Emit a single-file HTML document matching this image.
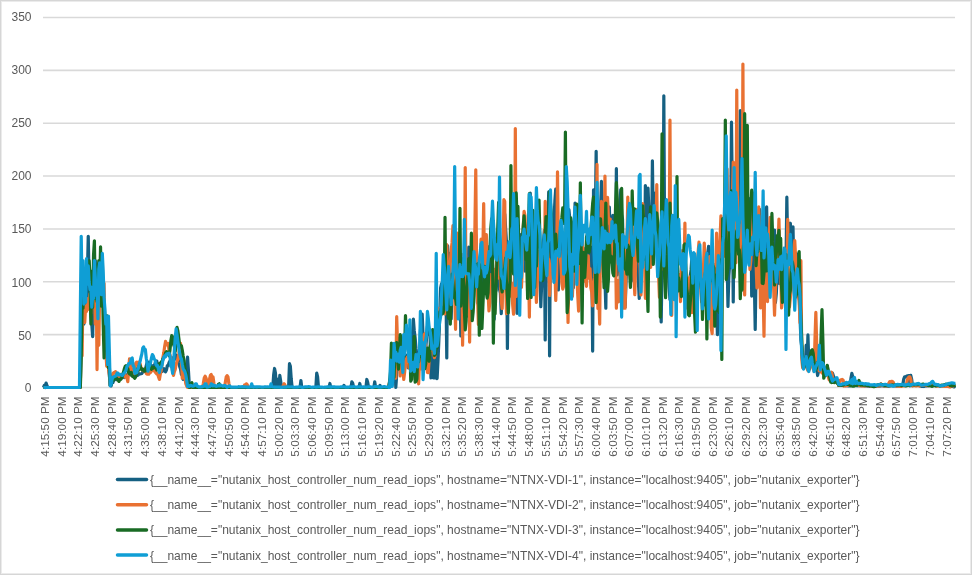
<!DOCTYPE html>
<html><head><meta charset="utf-8"><title>Chart</title>
<style>
html,body{margin:0;padding:0;background:#fff;}
body{width:972px;height:575px;overflow:hidden;position:relative;}
.frame{position:absolute;left:0;top:0;width:972px;height:575px;box-sizing:border-box;border:1px solid #d6d6d6;box-shadow:inset 0 0 0 1px #ebebeb;}
.ax{font-family:"Liberation Sans",Arial,sans-serif;font-size:12px;fill:#595959;}
.xl{font-size:11.8px;}
.lg{font-family:"Liberation Sans",Arial,sans-serif;font-size:12.2px;fill:#595959;}
</style></head><body>
<svg width="972" height="575" viewBox="0 0 972 575" style="position:absolute;left:0;top:0;filter:blur(0.35px)"><line x1="43.0" x2="955" y1="387.50" y2="387.50" stroke="#d9d9d9" stroke-width="1.6"/><text x="31.5" y="392.40" text-anchor="end" class="ax">0</text><line x1="43.0" x2="955" y1="334.64" y2="334.64" stroke="#d9d9d9" stroke-width="1.6"/><text x="31.5" y="339.54" text-anchor="end" class="ax">50</text><line x1="43.0" x2="955" y1="281.79" y2="281.79" stroke="#d9d9d9" stroke-width="1.6"/><text x="31.5" y="286.59" text-anchor="end" class="ax">100</text><line x1="43.0" x2="955" y1="228.93" y2="228.93" stroke="#d9d9d9" stroke-width="1.6"/><text x="31.5" y="232.53" text-anchor="end" class="ax">150</text><line x1="43.0" x2="955" y1="176.07" y2="176.07" stroke="#d9d9d9" stroke-width="1.6"/><text x="31.5" y="179.67" text-anchor="end" class="ax">200</text><line x1="43.0" x2="955" y1="123.21" y2="123.21" stroke="#d9d9d9" stroke-width="1.6"/><text x="31.5" y="126.81" text-anchor="end" class="ax">250</text><line x1="43.0" x2="955" y1="70.36" y2="70.36" stroke="#d9d9d9" stroke-width="1.6"/><text x="31.5" y="73.96" text-anchor="end" class="ax">300</text><line x1="43.0" x2="955" y1="17.50" y2="17.50" stroke="#d9d9d9" stroke-width="1.6"/><text x="31.5" y="21.10" text-anchor="end" class="ax">350</text><text transform="translate(48.94,396.3) rotate(-90)" text-anchor="end" class="ax xl">4:15:50 PM</text><text transform="translate(65.64,396.3) rotate(-90)" text-anchor="end" class="ax xl">4:19:00 PM</text><text transform="translate(82.33,396.3) rotate(-90)" text-anchor="end" class="ax xl">4:22:10 PM</text><text transform="translate(99.03,396.3) rotate(-90)" text-anchor="end" class="ax xl">4:25:30 PM</text><text transform="translate(115.72,396.3) rotate(-90)" text-anchor="end" class="ax xl">4:28:40 PM</text><text transform="translate(132.42,396.3) rotate(-90)" text-anchor="end" class="ax xl">4:31:50 PM</text><text transform="translate(149.11,396.3) rotate(-90)" text-anchor="end" class="ax xl">4:35:00 PM</text><text transform="translate(165.81,396.3) rotate(-90)" text-anchor="end" class="ax xl">4:38:10 PM</text><text transform="translate(182.51,396.3) rotate(-90)" text-anchor="end" class="ax xl">4:41:20 PM</text><text transform="translate(199.20,396.3) rotate(-90)" text-anchor="end" class="ax xl">4:44:30 PM</text><text transform="translate(215.90,396.3) rotate(-90)" text-anchor="end" class="ax xl">4:47:40 PM</text><text transform="translate(232.59,396.3) rotate(-90)" text-anchor="end" class="ax xl">4:50:50 PM</text><text transform="translate(249.29,396.3) rotate(-90)" text-anchor="end" class="ax xl">4:54:00 PM</text><text transform="translate(265.99,396.3) rotate(-90)" text-anchor="end" class="ax xl">4:57:10 PM</text><text transform="translate(282.68,396.3) rotate(-90)" text-anchor="end" class="ax xl">5:00:20 PM</text><text transform="translate(299.38,396.3) rotate(-90)" text-anchor="end" class="ax xl">5:03:30 PM</text><text transform="translate(316.07,396.3) rotate(-90)" text-anchor="end" class="ax xl">5:06:40 PM</text><text transform="translate(332.77,396.3) rotate(-90)" text-anchor="end" class="ax xl">5:09:50 PM</text><text transform="translate(349.46,396.3) rotate(-90)" text-anchor="end" class="ax xl">5:13:00 PM</text><text transform="translate(366.16,396.3) rotate(-90)" text-anchor="end" class="ax xl">5:16:10 PM</text><text transform="translate(382.86,396.3) rotate(-90)" text-anchor="end" class="ax xl">5:19:20 PM</text><text transform="translate(399.55,396.3) rotate(-90)" text-anchor="end" class="ax xl">5:22:40 PM</text><text transform="translate(416.25,396.3) rotate(-90)" text-anchor="end" class="ax xl">5:25:50 PM</text><text transform="translate(432.94,396.3) rotate(-90)" text-anchor="end" class="ax xl">5:29:00 PM</text><text transform="translate(449.64,396.3) rotate(-90)" text-anchor="end" class="ax xl">5:32:10 PM</text><text transform="translate(466.34,396.3) rotate(-90)" text-anchor="end" class="ax xl">5:35:20 PM</text><text transform="translate(483.03,396.3) rotate(-90)" text-anchor="end" class="ax xl">5:38:30 PM</text><text transform="translate(499.73,396.3) rotate(-90)" text-anchor="end" class="ax xl">5:41:40 PM</text><text transform="translate(516.42,396.3) rotate(-90)" text-anchor="end" class="ax xl">5:44:50 PM</text><text transform="translate(533.12,396.3) rotate(-90)" text-anchor="end" class="ax xl">5:48:00 PM</text><text transform="translate(549.82,396.3) rotate(-90)" text-anchor="end" class="ax xl">5:51:10 PM</text><text transform="translate(566.51,396.3) rotate(-90)" text-anchor="end" class="ax xl">5:54:20 PM</text><text transform="translate(583.21,396.3) rotate(-90)" text-anchor="end" class="ax xl">5:57:30 PM</text><text transform="translate(599.90,396.3) rotate(-90)" text-anchor="end" class="ax xl">6:00:40 PM</text><text transform="translate(616.60,396.3) rotate(-90)" text-anchor="end" class="ax xl">6:03:50 PM</text><text transform="translate(633.29,396.3) rotate(-90)" text-anchor="end" class="ax xl">6:07:00 PM</text><text transform="translate(649.99,396.3) rotate(-90)" text-anchor="end" class="ax xl">6:10:10 PM</text><text transform="translate(666.69,396.3) rotate(-90)" text-anchor="end" class="ax xl">6:13:20 PM</text><text transform="translate(683.38,396.3) rotate(-90)" text-anchor="end" class="ax xl">6:16:30 PM</text><text transform="translate(700.08,396.3) rotate(-90)" text-anchor="end" class="ax xl">6:19:50 PM</text><text transform="translate(716.77,396.3) rotate(-90)" text-anchor="end" class="ax xl">6:23:00 PM</text><text transform="translate(733.47,396.3) rotate(-90)" text-anchor="end" class="ax xl">6:26:10 PM</text><text transform="translate(750.17,396.3) rotate(-90)" text-anchor="end" class="ax xl">6:29:20 PM</text><text transform="translate(766.86,396.3) rotate(-90)" text-anchor="end" class="ax xl">6:32:30 PM</text><text transform="translate(783.56,396.3) rotate(-90)" text-anchor="end" class="ax xl">6:35:40 PM</text><text transform="translate(800.25,396.3) rotate(-90)" text-anchor="end" class="ax xl">6:38:50 PM</text><text transform="translate(816.95,396.3) rotate(-90)" text-anchor="end" class="ax xl">6:42:00 PM</text><text transform="translate(833.64,396.3) rotate(-90)" text-anchor="end" class="ax xl">6:45:10 PM</text><text transform="translate(850.34,396.3) rotate(-90)" text-anchor="end" class="ax xl">6:48:20 PM</text><text transform="translate(867.04,396.3) rotate(-90)" text-anchor="end" class="ax xl">6:51:30 PM</text><text transform="translate(883.73,396.3) rotate(-90)" text-anchor="end" class="ax xl">6:54:40 PM</text><text transform="translate(900.43,396.3) rotate(-90)" text-anchor="end" class="ax xl">6:57:50 PM</text><text transform="translate(917.12,396.3) rotate(-90)" text-anchor="end" class="ax xl">7:01:00 PM</text><text transform="translate(933.82,396.3) rotate(-90)" text-anchor="end" class="ax xl">7:04:10 PM</text><text transform="translate(950.52,396.3) rotate(-90)" text-anchor="end" class="ax xl">7:07:20 PM</text><polyline fill="none" stroke="#156082" stroke-width="3.2" stroke-linejoin="round" stroke-linecap="butt" points="43.44,387.50 44.32,385.39 45.20,387.50 46.08,383.06 46.95,385.39 47.83,387.50 48.71,387.50 49.59,387.50 50.47,387.50 51.35,387.50 52.23,387.50 53.11,387.50 53.98,387.50 54.86,387.50 55.74,387.50 56.62,387.50 57.50,387.50 58.38,387.50 59.26,387.50 60.14,387.50 61.01,387.50 61.89,387.50 62.77,387.50 63.65,387.50 64.53,387.50 65.41,387.50 66.29,387.50 67.17,387.50 68.04,387.50 68.92,387.50 69.80,387.50 70.68,387.50 71.56,387.50 72.44,387.50 73.32,387.50 74.19,387.50 75.07,387.50 75.95,387.50 76.83,387.50 77.71,387.50 78.59,387.50 79.47,387.50 80.35,382.21 81.22,345.21 82.10,313.50 82.98,281.46 83.86,324.07 84.74,291.37 85.62,271.21 86.50,303.84 87.38,275.93 88.25,236.33 89.13,281.79 90.01,290.74 90.89,313.50 91.77,324.07 92.65,336.76 93.53,295.38 94.41,292.36 95.28,260.64 96.16,287.04 97.04,271.21 97.92,298.38 98.80,292.36 99.68,269.10 100.56,264.85 101.44,262.76 102.31,288.63 103.19,287.07 104.07,309.24 104.95,324.07 105.83,345.21 106.71,358.67 107.59,355.79 108.47,367.07 109.34,374.81 110.22,385.39 111.10,385.90 111.98,381.08 112.86,382.61 113.74,380.18 114.62,379.04 115.50,378.26 116.37,379.67 117.25,378.13 118.13,378.40 119.01,378.47 119.89,376.56 120.77,378.85 121.65,376.93 122.53,374.19 123.40,375.51 124.28,377.48 125.16,374.97 126.04,375.12 126.92,375.30 127.80,374.35 128.68,374.19 129.55,373.56 130.43,374.81 131.31,373.26 132.19,375.75 133.07,376.02 133.95,376.87 134.83,376.93 135.71,375.90 136.58,375.22 137.46,375.41 138.34,375.01 139.22,373.62 140.10,373.97 140.98,373.75 141.86,373.46 142.74,371.93 143.61,371.64 144.49,369.24 145.37,369.82 146.25,365.66 147.13,362.46 148.01,363.37 148.89,362.13 149.77,363.04 150.64,364.96 151.52,369.20 152.40,368.47 153.28,365.67 154.16,366.22 155.04,363.39 155.92,361.07 156.80,361.06 157.67,366.43 158.55,366.47 159.43,369.16 160.31,371.64 161.19,371.86 162.07,371.54 162.95,370.09 163.83,368.67 164.70,371.24 165.58,371.75 166.46,369.85 167.34,365.63 168.22,365.50 169.10,362.55 169.98,360.89 170.86,361.07 171.73,357.73 172.61,358.74 173.49,360.85 174.37,356.61 175.25,354.30 176.13,355.79 177.01,360.02 177.88,358.00 178.76,362.50 179.64,366.36 180.52,368.90 181.40,374.44 182.28,375.14 183.16,379.47 184.04,377.76 184.91,379.08 185.79,376.93 186.67,368.50 187.55,357.05 188.43,370.33 189.31,385.39 190.19,387.50 191.07,387.50 191.94,387.50 192.82,387.50 193.70,387.50 194.58,387.50 195.46,387.50 196.34,387.50 197.22,387.50 198.10,387.50 198.97,387.50 199.85,387.50 200.73,387.50 201.61,387.50 202.49,387.50 203.37,387.50 204.25,387.50 205.13,387.50 206.00,387.50 206.88,387.50 207.76,387.50 208.64,387.50 209.52,387.50 210.40,387.50 211.28,387.50 212.16,387.50 213.03,387.50 213.91,387.50 214.79,387.50 215.67,387.50 216.55,387.50 217.43,387.50 218.31,387.50 219.19,387.50 220.06,387.50 220.94,387.50 221.82,387.50 222.70,387.50 223.58,387.50 224.46,387.50 225.34,387.50 226.22,387.50 227.09,387.50 227.97,387.50 228.85,387.50 229.73,387.50 230.61,387.50 231.49,387.50 232.37,387.50 233.24,387.50 234.12,387.50 235.00,387.50 235.88,387.50 236.76,387.50 237.64,387.50 238.52,387.50 239.40,387.50 240.27,387.50 241.15,387.50 242.03,387.50 242.91,387.50 243.79,387.50 244.67,387.50 245.55,387.50 246.43,387.50 247.30,387.50 248.18,387.50 249.06,387.50 249.94,387.50 250.82,387.50 251.70,387.50 252.58,387.50 253.46,387.50 254.33,387.50 255.21,387.50 256.09,387.50 256.97,387.50 257.85,387.50 258.73,387.50 259.61,387.50 260.49,387.50 261.36,387.50 262.24,387.50 263.12,387.50 264.00,387.50 264.88,387.50 265.76,387.50 266.64,387.50 267.52,387.50 268.39,387.50 269.27,387.50 270.15,387.50 271.03,387.50 271.91,387.50 272.79,387.50 273.67,374.81 274.55,368.47 275.42,372.70 276.30,387.50 277.18,379.04 278.06,387.50 278.94,387.50 279.82,375.45 280.70,381.16 281.58,387.50 282.45,387.50 283.33,387.50 284.21,387.50 285.09,387.50 285.97,387.50 286.85,387.50 287.73,387.50 288.60,387.50 289.48,363.71 290.36,366.36 291.24,379.04 292.12,387.50 293.00,387.50 293.88,387.50 294.76,387.50 295.63,387.50 296.51,387.50 297.39,387.50 298.27,387.50 299.15,387.50 300.03,387.50 300.91,380.52 301.79,387.50 302.66,387.50 303.54,387.50 304.42,387.50 305.30,387.50 306.18,387.50 307.06,387.50 307.94,387.50 308.82,387.50 309.69,387.50 310.57,387.50 311.45,387.50 312.33,387.50 313.21,387.50 314.09,387.50 314.97,387.50 315.85,387.50 316.72,373.12 317.60,376.93 318.48,387.50 319.36,387.50 320.24,387.50 321.12,387.50 322.00,387.50 322.88,387.50 323.75,387.50 324.63,387.50 325.51,387.50 326.39,387.50 327.27,387.50 328.15,387.50 329.03,387.50 329.91,383.48 330.78,387.50 331.66,387.50 332.54,387.50 333.42,387.50 334.30,387.50 335.18,387.50 336.06,387.50 336.94,387.50 337.81,387.50 338.69,387.50 339.57,387.50 340.45,387.50 341.33,387.50 342.21,387.50 343.09,387.50 343.96,385.39 344.84,387.50 345.72,387.50 346.60,387.50 347.48,387.50 348.36,387.50 349.24,387.50 350.12,387.50 350.99,387.50 351.87,381.79 352.75,383.27 353.63,387.50 354.51,387.50 355.39,387.50 356.27,387.50 357.15,387.50 358.02,387.50 358.90,387.50 359.78,383.48 360.66,387.50 361.54,387.50 362.42,387.50 363.30,387.50 364.18,387.50 365.05,387.50 365.93,387.50 366.81,379.47 367.69,382.21 368.57,387.50 369.45,387.50 370.33,387.50 371.21,387.50 372.08,387.50 372.96,387.50 373.84,387.50 374.72,381.79 375.60,387.50 376.48,387.50 377.36,387.50 378.24,387.50 379.11,387.50 379.99,385.39 380.87,387.50 381.75,387.50 382.63,387.50 383.51,387.50 384.39,387.50 385.27,387.50 386.14,387.50 387.02,387.50 387.90,387.50 388.78,387.50 389.66,380.39 390.54,378.72 391.42,372.79 392.29,359.28 393.17,357.99 394.05,348.99 394.93,365.86 395.81,387.50 396.69,374.94 397.57,360.96 398.45,348.96 399.32,338.67 400.20,344.14 401.08,344.42 401.96,351.30 402.84,350.32 403.72,359.19 404.60,360.93 405.48,355.03 406.35,355.79 407.23,355.01 408.11,367.78 408.99,363.43 409.87,365.00 410.75,357.61 411.63,350.05 412.51,334.46 413.38,319.09 414.26,330.90 415.14,337.81 416.02,348.41 416.90,355.19 417.78,367.95 418.66,366.74 419.54,358.02 420.41,331.15 421.29,319.96 422.17,314.18 423.05,334.81 423.93,334.60 424.81,357.37 425.69,349.41 426.57,337.31 427.44,326.42 428.32,324.59 429.20,332.35 430.08,335.92 430.96,377.99 431.84,361.57 432.72,353.18 433.60,377.99 434.47,336.81 435.35,377.99 436.23,362.64 437.11,378.54 437.99,360.64 438.87,340.21 439.75,314.95 440.63,287.87 441.50,283.95 442.38,288.65 443.26,301.63 444.14,295.54 445.02,310.66 445.90,285.80 446.78,357.90 447.65,245.82 448.53,269.86 449.41,253.24 450.29,312.63 451.17,319.03 452.05,290.03 452.93,281.91 453.81,252.54 454.68,248.82 455.56,272.98 456.44,282.27 457.32,302.65 458.20,267.49 459.08,253.87 459.96,286.30 460.84,336.00 461.71,289.06 462.59,264.53 463.47,279.48 464.35,286.12 465.23,293.91 466.11,304.82 466.99,316.10 467.87,292.21 468.74,247.07 469.62,276.48 470.50,278.52 471.38,288.38 472.26,303.52 473.14,288.10 474.02,263.11 474.90,251.95 475.77,234.89 476.65,260.65 477.53,303.02 478.41,289.22 479.29,287.88 480.17,292.85 481.05,271.64 481.93,278.87 482.80,271.49 483.68,291.19 484.56,283.18 485.44,276.78 486.32,264.73 487.20,274.81 488.08,282.02 488.96,279.13 489.83,245.99 490.71,251.69 491.59,263.17 492.47,281.69 493.35,288.80 494.23,319.10 495.11,284.74 495.99,290.71 496.86,248.47 497.74,271.43 498.62,277.56 499.50,289.25 500.38,293.14 501.26,313.65 502.14,294.95 503.01,253.86 503.89,231.63 504.77,214.17 505.65,229.16 506.53,242.73 507.41,348.39 508.29,263.29 509.17,287.15 510.04,273.89 510.92,258.91 511.80,261.40 512.68,247.09 513.56,248.17 514.44,259.78 515.32,278.97 516.20,284.65 517.07,313.29 517.95,304.83 518.83,279.50 519.71,270.91 520.59,241.82 521.47,234.42 522.35,248.90 523.23,262.10 524.10,261.32 524.98,271.21 525.86,253.77 526.74,235.10 527.62,230.80 528.50,284.56 529.38,273.89 530.26,192.99 531.13,260.30 532.01,267.84 532.89,261.57 533.77,272.00 534.65,260.26 535.53,287.21 536.41,275.46 537.29,278.79 538.16,262.49 539.04,268.92 539.92,270.59 540.80,306.74 541.68,284.05 542.56,264.57 543.44,242.29 544.32,230.43 545.19,339.93 546.07,252.76 546.95,271.81 547.83,226.60 548.71,191.81 549.59,355.79 550.47,213.12 551.35,231.29 552.22,242.67 553.10,247.76 553.98,221.28 554.86,201.22 555.74,189.08 556.62,229.35 557.50,249.62 558.37,290.01 559.25,257.82 560.13,261.66 561.01,245.89 561.89,241.00 562.77,248.17 563.65,243.60 564.53,251.26 565.40,264.50 566.28,251.52 567.16,242.57 568.04,231.61 568.92,209.62 569.80,218.96 570.68,243.96 571.56,244.94 572.43,263.03 573.31,287.73 574.19,248.13 575.07,203.12 575.95,221.08 576.83,239.51 577.71,260.34 578.59,248.32 579.46,261.79 580.34,267.47 581.22,256.16 582.10,260.79 582.98,261.35 583.86,248.94 584.74,261.36 585.62,257.19 586.49,251.62 587.37,251.03 588.25,244.78 589.13,249.51 590.01,261.85 590.89,267.82 591.77,247.01 592.65,351.03 593.52,189.91 594.40,201.45 595.28,222.35 596.16,151.23 597.04,263.67 597.92,281.32 598.80,258.67 599.68,218.68 600.55,209.73 601.43,181.47 602.31,204.20 603.19,246.35 604.07,248.38 604.95,279.42 605.83,308.21 606.71,238.49 607.58,226.51 608.46,215.80 609.34,207.06 610.22,236.09 611.10,257.66 611.98,243.05 612.86,215.40 613.73,235.85 614.61,250.19 615.49,274.47 616.37,168.67 617.25,274.86 618.13,254.71 619.01,233.32 619.89,209.12 620.76,189.66 621.64,214.20 622.52,218.94 623.40,258.90 624.28,280.09 625.16,306.89 626.04,281.78 626.92,266.69 627.79,256.27 628.67,233.21 629.55,220.17 630.43,257.93 631.31,281.16 632.19,271.49 633.07,256.04 633.95,255.08 634.82,253.90 635.70,239.27 636.58,250.64 637.46,266.64 638.34,280.64 639.22,298.47 640.10,270.25 640.98,247.38 641.85,226.14 642.73,204.53 643.61,233.09 644.49,266.59 645.37,185.59 646.25,239.68 647.13,212.21 648.01,188.17 648.88,209.79 649.76,243.98 650.64,264.87 651.52,250.11 652.40,160.74 653.28,222.82 654.16,227.09 655.04,193.13 655.91,214.50 656.79,242.43 657.67,253.80 658.55,262.52 659.43,258.47 660.31,247.64 661.19,321.96 662.06,266.86 662.94,268.87 663.82,95.73 664.70,255.05 665.58,254.63 666.46,238.26 667.34,254.79 668.22,261.28 669.09,287.22 669.97,299.59 670.85,286.50 671.73,271.17 672.61,274.56 673.49,273.88 674.37,280.41 675.25,279.04 676.12,281.12 677.00,259.81 677.88,272.89 678.76,278.24 679.64,290.79 680.52,274.36 681.40,277.43 682.28,272.44 683.15,259.15 684.03,268.59 684.91,268.02 685.79,283.96 686.67,287.63 687.55,293.81 688.43,284.76 689.31,292.53 690.18,276.16 691.06,269.92 691.94,257.08 692.82,259.85 693.70,283.49 694.58,299.63 695.46,300.61 696.34,299.44 697.21,288.16 698.09,281.57 698.97,282.95 699.85,279.15 700.73,281.16 701.61,297.99 702.49,297.78 703.37,301.60 704.24,302.46 705.12,304.97 706.00,292.98 706.88,262.00 707.76,252.88 708.64,246.25 709.52,282.89 710.40,316.05 711.27,317.91 712.15,305.12 713.03,285.77 713.91,277.59 714.79,265.50 715.67,289.24 716.55,301.19 717.42,334.57 718.30,311.75 719.18,294.09 720.06,254.41 720.94,262.94 721.82,250.58 722.70,236.20 723.58,239.23 724.45,231.25 725.33,203.43 726.21,219.81 727.09,259.65 727.97,306.42 728.85,275.84 729.73,263.66 730.61,231.80 731.48,122.16 732.36,199.96 733.24,301.87 734.12,213.45 735.00,215.74 735.88,234.88 736.76,233.47 737.64,251.76 738.51,239.70 739.39,236.52 740.27,110.53 741.15,245.96 742.03,241.11 742.91,218.31 743.79,185.26 744.67,194.68 745.54,197.64 746.42,227.03 747.30,229.87 748.18,232.66 749.06,222.39 749.94,198.56 750.82,199.18 751.70,296.06 752.57,227.55 753.45,251.16 754.33,281.21 755.21,329.36 756.09,270.34 756.97,263.83 757.85,243.94 758.73,237.43 759.60,209.45 760.48,229.70 761.36,241.51 762.24,263.73 763.12,239.58 764.00,229.95 764.88,209.17 765.76,225.94 766.63,206.73 767.51,256.84 768.39,267.05 769.27,264.84 770.15,248.55 771.03,247.84 771.91,244.07 772.78,263.11 773.66,269.01 774.54,229.99 775.42,302.58 776.30,293.70 777.18,273.46 778.06,264.58 778.94,274.36 779.81,283.75 780.69,279.62 781.57,283.09 782.45,268.60 783.33,277.24 784.21,263.28 785.09,270.21 785.97,266.16 786.84,197.21 787.72,249.94 788.60,253.90 789.48,234.02 790.36,223.22 791.24,241.18 792.12,254.39 793.00,226.81 793.87,274.18 794.75,276.38 795.63,262.65 796.51,253.66 797.39,258.13 798.27,282.42 799.15,293.86 800.03,316.82 800.90,340.02 801.78,347.08 802.66,359.08 803.54,364.53 804.42,364.70 805.30,366.70 806.18,345.21 807.06,366.24 807.93,334.96 808.81,362.65 809.69,350.50 810.57,362.59 811.45,361.72 812.33,362.11 813.21,362.73 814.09,359.33 814.96,356.52 815.84,364.39 816.72,368.62 817.60,375.52 818.48,371.64 819.36,365.55 820.24,360.09 821.12,360.24 821.99,365.97 822.87,371.40 823.75,373.21 824.63,370.33 825.51,369.36 826.39,369.00 827.27,366.11 828.14,371.90 829.02,377.37 829.90,377.04 830.78,374.72 831.66,374.62 832.54,373.21 833.42,376.01 834.30,377.82 835.17,379.04 836.05,380.39 836.93,381.86 837.81,380.81 838.69,385.48 839.57,385.34 840.45,385.36 841.33,385.29 842.20,384.89 843.08,385.32 843.96,384.97 844.84,385.42 845.72,385.60 846.60,385.54 847.48,385.73 848.36,385.85 849.23,385.75 850.11,385.78 850.99,377.99 851.87,373.33 852.75,376.93 853.63,385.48 854.51,385.40 855.39,385.23 856.26,385.51 857.14,385.78 858.02,385.68 858.90,385.54 859.78,385.74 860.66,385.72 861.54,385.76 862.42,385.64 863.29,385.41 864.17,385.52 865.05,385.99 865.93,385.85 866.81,385.98 867.69,386.18 868.57,386.09 869.45,386.34 870.32,385.91 871.20,385.85 872.08,385.80 872.96,386.02 873.84,385.92 874.72,386.19 875.60,386.22 876.47,386.45 877.35,386.26 878.23,386.10 879.11,386.12 879.99,386.05 880.87,385.82 881.75,385.74 882.63,385.74 883.50,385.84 884.38,386.09 885.26,386.01 886.14,385.97 887.02,386.02 887.90,386.08 888.78,386.26 889.66,386.02 890.53,385.68 891.41,385.75 892.29,385.73 893.17,385.95 894.05,385.95 894.93,385.89 895.81,385.91 896.69,386.21 897.56,385.85 898.44,385.85 899.32,385.71 900.20,385.50 901.08,385.17 901.96,385.06 902.84,384.72 903.72,379.04 904.59,376.93 905.47,376.93 906.35,376.40 907.23,375.87 908.11,375.87 908.99,375.66 909.87,385.80 910.75,375.24 911.62,379.04 912.50,385.60 913.38,385.40 914.26,385.11 915.14,384.96 916.02,385.11 916.90,385.14 917.78,385.07 918.65,385.22 919.53,385.64 920.41,385.97 921.29,386.35 922.17,386.38 923.05,386.53 923.93,386.44 924.81,386.06 925.68,385.98 926.56,385.95 927.44,385.56 928.32,385.68 929.20,385.41 930.08,385.29 930.96,385.38 931.83,385.27 932.71,384.97 933.59,385.36 934.47,385.33 935.35,385.41 936.23,385.55 937.11,385.57 937.99,385.36 938.86,385.63 939.74,385.53 940.62,385.59 941.50,385.62 942.38,385.72 943.26,385.58 944.14,385.93 945.02,385.94 945.89,385.65 946.77,385.71 947.65,385.57 948.53,385.66 949.41,386.00 950.29,386.03 951.17,386.08 952.05,386.35 952.92,386.44 953.80,386.87 954.68,386.65 955.56,386.50"/><polyline fill="none" stroke="#E97132" stroke-width="3.2" stroke-linejoin="round" stroke-linecap="butt" points="43.44,387.50 44.32,387.50 45.20,387.50 46.08,387.50 46.95,387.50 47.83,387.50 48.71,387.50 49.59,387.50 50.47,387.50 51.35,387.50 52.23,387.50 53.11,387.50 53.98,387.50 54.86,387.50 55.74,387.50 56.62,387.50 57.50,387.50 58.38,387.50 59.26,387.50 60.14,387.50 61.01,387.50 61.89,387.50 62.77,387.50 63.65,387.50 64.53,387.50 65.41,387.50 66.29,387.50 67.17,387.50 68.04,387.50 68.92,387.50 69.80,387.50 70.68,387.50 71.56,387.50 72.44,387.50 73.32,387.50 74.19,387.50 75.07,387.50 75.95,387.50 76.83,387.50 77.71,387.50 78.59,387.50 79.47,387.50 80.35,387.50 81.22,324.53 82.10,355.79 82.98,290.90 83.86,313.50 84.74,322.49 85.62,306.36 86.50,311.39 87.38,298.59 88.25,305.04 89.13,309.27 90.01,293.75 90.89,313.50 91.77,295.36 92.65,287.07 93.53,280.57 94.41,271.21 95.28,324.07 96.16,274.21 97.04,369.53 97.92,294.54 98.80,345.21 99.68,292.36 100.56,287.62 101.44,271.21 102.31,257.53 103.19,302.93 104.07,283.30 104.95,339.93 105.83,351.23 106.71,366.07 107.59,366.23 108.47,367.95 109.34,374.43 110.22,385.39 111.10,382.56 111.98,379.25 112.86,373.79 113.74,372.59 114.62,373.03 115.50,371.58 116.37,373.37 117.25,373.96 118.13,375.24 119.01,376.52 119.89,376.93 120.77,374.40 121.65,375.20 122.53,374.93 123.40,373.78 124.28,374.81 125.16,377.14 126.04,376.27 126.92,377.87 127.80,381.58 128.68,369.67 129.55,358.75 130.43,363.65 131.31,367.75 132.19,374.16 133.07,375.45 133.95,370.83 134.83,369.73 135.71,363.45 136.58,362.23 137.46,364.85 138.34,362.15 139.22,364.78 140.10,363.66 140.98,367.69 141.86,368.47 142.74,369.97 143.61,370.70 144.49,369.81 145.37,369.68 146.25,373.50 147.13,373.97 148.01,371.91 148.89,374.15 149.77,371.84 150.64,372.26 151.52,368.83 152.40,370.53 153.28,368.49 154.16,368.47 155.04,372.01 155.92,372.99 156.80,374.07 157.67,373.14 158.55,377.04 159.43,379.47 160.31,374.09 161.19,370.54 162.07,364.33 162.95,357.28 163.83,352.37 164.70,346.29 165.58,341.30 166.46,344.86 167.34,344.04 168.22,343.42 169.10,350.93 169.98,355.27 170.86,358.27 171.73,364.74 172.61,371.47 173.49,375.45 174.37,371.68 175.25,369.32 176.13,364.22 177.01,361.54 177.88,358.75 178.76,353.83 179.64,347.70 180.52,343.42 181.40,358.92 182.28,378.20 183.16,373.78 184.04,372.59 184.91,377.85 185.79,383.69 186.67,386.02 187.55,387.50 188.43,387.50 189.31,387.50 190.19,387.50 191.07,387.50 191.94,387.50 192.82,387.50 193.70,387.50 194.58,387.50 195.46,387.50 196.34,387.50 197.22,387.50 198.10,387.50 198.97,387.50 199.85,387.50 200.73,387.50 201.61,387.50 202.49,387.50 203.37,383.27 204.25,377.99 205.13,376.29 206.00,377.99 206.88,381.16 207.76,387.50 208.64,387.50 209.52,379.04 210.40,375.34 211.28,374.50 212.16,387.50 213.03,376.93 213.91,383.27 214.79,387.50 215.67,387.50 216.55,387.50 217.43,387.50 218.31,387.50 219.19,387.50 220.06,387.50 220.94,387.50 221.82,387.50 222.70,387.50 223.58,387.50 224.46,387.50 225.34,382.21 226.22,376.93 227.09,375.66 227.97,376.93 228.85,383.27 229.73,387.50 230.61,387.50 231.49,387.50 232.37,387.50 233.24,387.50 234.12,387.50 235.00,387.50 235.88,387.50 236.76,387.50 237.64,387.50 238.52,387.50 239.40,387.50 240.27,387.50 241.15,387.50 242.03,387.50 242.91,387.50 243.79,387.50 244.67,384.86 245.55,387.50 246.43,383.80 247.30,384.86 248.18,387.50 249.06,387.50 249.94,387.50 250.82,387.50 251.70,387.50 252.58,387.50 253.46,387.50 254.33,387.50 255.21,387.50 256.09,387.50 256.97,387.50 257.85,387.50 258.73,387.50 259.61,387.50 260.49,387.50 261.36,387.50 262.24,387.50 263.12,387.50 264.00,387.50 264.88,387.50 265.76,387.50 266.64,387.50 267.52,387.50 268.39,387.50 269.27,387.50 270.15,387.50 271.03,387.50 271.91,387.50 272.79,387.50 273.67,387.50 274.55,387.50 275.42,387.50 276.30,387.50 277.18,387.50 278.06,387.50 278.94,387.50 279.82,387.50 280.70,387.50 281.58,387.50 282.45,387.50 283.33,385.39 284.21,383.80 285.09,385.39 285.97,387.50 286.85,387.50 287.73,387.50 288.60,387.50 289.48,387.50 290.36,387.50 291.24,387.50 292.12,387.50 293.00,387.50 293.88,387.50 294.76,387.50 295.63,387.50 296.51,387.50 297.39,387.50 298.27,387.50 299.15,387.50 300.03,387.50 300.91,387.50 301.79,387.50 302.66,387.50 303.54,387.50 304.42,387.50 305.30,387.50 306.18,387.50 307.06,387.50 307.94,387.50 308.82,387.50 309.69,387.50 310.57,387.50 311.45,387.50 312.33,387.50 313.21,387.50 314.09,387.50 314.97,387.50 315.85,387.50 316.72,387.50 317.60,387.50 318.48,387.50 319.36,387.50 320.24,387.50 321.12,387.50 322.00,387.50 322.88,387.50 323.75,387.50 324.63,387.50 325.51,387.50 326.39,387.50 327.27,387.50 328.15,387.50 329.03,387.50 329.91,387.50 330.78,387.50 331.66,387.50 332.54,387.50 333.42,387.50 334.30,387.50 335.18,387.50 336.06,387.50 336.94,387.50 337.81,387.50 338.69,387.50 339.57,387.50 340.45,387.50 341.33,387.50 342.21,387.50 343.09,387.50 343.96,387.50 344.84,387.50 345.72,387.50 346.60,387.50 347.48,387.50 348.36,387.50 349.24,387.50 350.12,387.50 350.99,387.50 351.87,387.50 352.75,387.50 353.63,387.50 354.51,387.50 355.39,387.50 356.27,387.50 357.15,387.50 358.02,387.50 358.90,387.50 359.78,387.50 360.66,387.50 361.54,387.50 362.42,387.50 363.30,387.50 364.18,387.50 365.05,387.50 365.93,387.50 366.81,387.50 367.69,387.50 368.57,387.50 369.45,387.50 370.33,387.50 371.21,387.50 372.08,387.50 372.96,387.50 373.84,387.50 374.72,387.50 375.60,387.50 376.48,387.50 377.36,387.50 378.24,387.50 379.11,387.50 379.99,387.50 380.87,387.50 381.75,387.50 382.63,387.50 383.51,387.50 384.39,387.50 385.27,387.50 386.14,387.50 387.02,387.50 387.90,387.50 388.78,387.50 389.66,381.80 390.54,377.50 391.42,376.93 392.29,371.67 393.17,366.36 394.05,358.87 394.93,355.79 395.81,378.10 396.69,316.67 397.57,345.21 398.45,357.07 399.32,353.49 400.20,375.87 401.08,346.76 401.96,364.67 402.84,361.07 403.72,379.44 404.60,372.57 405.48,363.18 406.35,359.21 407.23,357.09 408.11,356.67 408.99,367.78 409.87,360.61 410.75,359.29 411.63,360.54 412.51,359.72 413.38,361.81 414.26,358.06 415.14,373.92 416.02,365.57 416.90,377.79 417.78,379.83 418.66,383.80 419.54,358.36 420.41,346.52 421.29,368.83 422.17,368.77 423.05,348.78 423.93,334.85 424.81,333.61 425.69,346.11 426.57,361.17 427.44,372.36 428.32,372.65 429.20,359.19 430.08,351.34 430.96,349.53 431.84,350.22 432.72,341.30 433.60,352.47 434.47,357.61 435.35,352.08 436.23,325.00 437.11,307.66 437.99,318.71 438.87,308.67 439.75,312.58 440.63,315.78 441.50,297.18 442.38,296.70 443.26,308.93 444.14,302.23 445.02,314.01 445.90,284.01 446.78,244.49 447.65,274.87 448.53,297.03 449.41,278.95 450.29,263.36 451.17,249.97 452.05,242.95 452.93,225.66 453.81,252.95 454.68,290.09 455.56,329.29 456.44,263.27 457.32,233.03 458.20,243.01 459.08,250.67 459.96,266.83 460.84,256.30 461.71,254.53 462.59,345.21 463.47,288.07 464.35,301.67 465.23,167.61 466.11,314.62 466.99,299.57 467.87,282.46 468.74,272.08 469.62,342.04 470.50,264.45 471.38,272.21 472.26,268.00 473.14,250.39 474.02,253.01 474.90,228.34 475.77,169.73 476.65,274.15 477.53,296.06 478.41,324.36 479.29,284.71 480.17,272.59 481.05,239.19 481.93,250.51 482.80,256.54 483.68,203.56 484.56,280.26 485.44,244.74 486.32,234.67 487.20,263.11 488.08,292.84 488.96,310.86 489.83,302.38 490.71,274.70 491.59,281.20 492.47,281.98 493.35,276.14 494.23,297.51 495.11,269.05 495.99,274.54 496.86,258.06 497.74,254.30 498.62,278.06 499.50,273.14 500.38,279.29 501.26,300.83 502.14,308.69 503.01,261.42 503.89,199.68 504.77,201.44 505.65,284.19 506.53,313.69 507.41,295.90 508.29,285.25 509.17,252.31 510.04,262.92 510.92,296.10 511.80,283.47 512.68,304.76 513.56,314.26 514.44,302.41 515.32,128.50 516.20,296.36 517.07,271.86 517.95,270.20 518.83,246.93 519.71,275.67 520.59,268.68 521.47,287.37 522.35,266.83 523.23,227.10 524.10,211.42 524.98,215.91 525.86,236.94 526.74,244.55 527.62,294.51 528.50,265.87 529.38,317.09 530.26,241.46 531.13,231.46 532.01,225.59 532.89,227.72 533.77,248.74 534.65,275.10 535.53,279.07 536.41,302.32 537.29,282.18 538.16,266.27 539.04,250.98 539.92,259.39 540.80,272.82 541.68,269.08 542.56,272.93 543.44,264.46 544.32,273.65 545.19,201.44 546.07,259.19 546.95,249.08 547.83,253.40 548.71,260.44 549.59,295.41 550.47,269.55 551.35,271.22 552.22,260.26 553.10,253.94 553.98,274.82 554.86,267.03 555.74,300.50 556.62,275.16 557.50,171.84 558.37,243.28 559.25,244.42 560.13,255.12 561.01,265.00 561.89,283.28 562.77,289.05 563.65,285.99 564.53,266.71 565.40,263.90 566.28,260.59 567.16,251.81 568.04,322.49 568.92,271.17 569.80,285.00 570.68,292.02 571.56,290.82 572.43,296.47 573.31,271.18 574.19,254.99 575.07,256.11 575.95,243.29 576.83,275.53 577.71,294.49 578.59,311.04 579.46,277.23 580.34,253.21 581.22,229.36 582.10,238.76 582.98,257.94 583.86,248.81 584.74,281.15 585.62,278.13 586.49,286.29 587.37,265.33 588.25,255.74 589.13,278.22 590.01,268.55 590.89,287.92 591.77,292.56 592.65,305.94 593.52,282.95 594.40,277.67 595.28,253.17 596.16,259.67 597.04,164.44 597.92,308.49 598.80,295.47 599.68,324.07 600.55,232.91 601.43,201.30 602.31,232.29 603.19,246.01 604.07,272.81 604.95,176.07 605.83,257.28 606.71,234.22 607.58,197.45 608.46,219.68 609.34,223.13 610.22,219.05 611.10,243.76 611.98,260.89 612.86,228.58 613.73,230.04 614.61,227.68 615.49,245.97 616.37,308.21 617.25,280.32 618.13,301.81 619.01,301.27 619.89,280.61 620.76,254.11 621.64,239.14 622.52,265.04 623.40,308.21 624.28,292.13 625.16,308.21 626.04,264.12 626.92,245.89 627.79,197.21 628.67,271.58 629.55,274.14 630.43,269.68 631.31,242.99 632.19,226.43 633.07,257.62 633.95,277.17 634.82,294.67 635.70,259.30 636.58,239.89 637.46,209.12 638.34,223.15 639.22,249.75 640.10,266.83 640.98,294.99 641.85,245.55 642.73,203.70 643.61,227.46 644.49,259.83 645.37,298.33 646.25,284.45 647.13,249.46 648.01,238.50 648.88,252.14 649.76,251.76 650.64,267.39 651.52,251.73 652.40,251.83 653.28,244.16 654.16,251.67 655.04,243.72 655.91,235.61 656.79,184.53 657.67,264.32 658.55,275.12 659.43,297.07 660.31,265.59 661.19,229.31 662.06,245.46 662.94,267.57 663.82,269.49 664.70,258.15 665.58,247.70 666.46,234.86 667.34,234.67 668.22,232.48 669.09,260.04 669.97,120.04 670.85,294.00 671.73,315.33 672.61,258.41 673.49,216.19 674.37,238.29 675.25,268.60 676.12,289.29 677.00,290.59 677.88,290.24 678.76,274.32 679.64,286.75 680.52,301.53 681.40,275.15 682.28,250.53 683.15,259.50 684.03,267.56 684.91,223.11 685.79,291.37 686.67,307.89 687.55,290.04 688.43,278.58 689.31,279.94 690.18,276.77 691.06,290.32 691.94,312.70 692.82,299.49 693.70,289.73 694.58,262.97 695.46,272.89 696.34,278.62 697.21,276.41 698.09,252.76 698.97,242.07 699.85,257.02 700.73,288.92 701.61,302.01 702.49,280.00 703.37,271.72 704.24,242.98 705.12,262.07 706.00,283.75 706.88,301.40 707.76,291.75 708.64,271.47 709.52,256.58 710.40,291.50 711.27,327.96 712.15,333.59 713.03,291.32 713.91,264.55 714.79,281.82 715.67,279.30 716.55,233.16 717.42,279.15 718.30,280.67 719.18,252.79 720.06,238.97 720.94,215.88 721.82,225.01 722.70,226.88 723.58,247.83 724.45,256.26 725.33,241.29 726.21,196.05 727.09,168.87 727.97,219.45 728.85,252.42 729.73,245.09 730.61,223.48 731.48,205.42 732.36,207.18 733.24,162.09 734.12,195.40 735.00,227.52 735.88,262.75 736.76,90.02 737.64,241.36 738.51,244.47 739.39,224.73 740.27,234.45 741.15,260.34 742.03,275.70 742.91,64.01 743.79,247.15 744.67,295.00 745.54,234.09 746.42,233.25 747.30,247.33 748.18,254.87 749.06,250.20 749.94,269.45 750.82,260.27 751.70,236.88 752.57,235.71 753.45,207.67 754.33,232.13 755.21,241.38 756.09,264.85 756.97,287.98 757.85,260.52 758.73,206.88 759.60,244.82 760.48,307.83 761.36,289.70 762.24,279.93 763.12,290.54 764.00,336.12 764.88,264.32 765.76,265.09 766.63,275.28 767.51,301.57 768.39,263.35 769.27,236.62 770.15,217.35 771.03,223.70 771.91,240.50 772.78,279.04 773.66,288.42 774.54,315.08 775.42,289.26 776.30,272.24 777.18,264.85 778.06,247.15 778.94,219.15 779.81,253.27 780.69,267.68 781.57,307.88 782.45,298.51 783.33,274.83 784.21,272.46 785.09,268.38 785.97,282.40 786.84,283.10 787.72,219.41 788.60,303.21 789.48,306.88 790.36,297.57 791.24,290.50 792.12,276.10 793.00,253.74 793.87,249.84 794.75,240.55 795.63,258.82 796.51,267.42 797.39,280.26 798.27,296.51 799.15,300.61 800.03,322.66 800.90,260.64 801.78,359.46 802.66,367.85 803.54,365.09 804.42,361.05 805.30,364.11 806.18,364.97 807.06,368.53 807.93,370.77 808.81,369.24 809.69,369.33 810.57,366.45 811.45,364.32 812.33,360.76 813.21,366.92 814.09,371.40 814.96,339.93 815.84,312.44 816.72,345.21 817.60,367.88 818.48,368.45 819.36,370.93 820.24,369.76 821.12,371.49 821.99,372.94 822.87,373.20 823.75,372.42 824.63,372.19 825.51,372.16 826.39,372.09 827.27,375.52 828.14,376.16 829.02,379.45 829.90,380.60 830.78,377.15 831.66,372.22 832.54,377.58 833.42,382.08 834.30,381.76 835.17,381.33 836.05,381.68 836.93,380.20 837.81,380.71 838.69,385.34 839.57,381.16 840.45,380.10 841.33,379.89 842.20,379.47 843.08,380.10 843.96,386.17 844.84,382.21 845.72,385.78 846.60,385.39 847.48,385.61 848.36,385.25 849.23,385.34 850.11,385.29 850.99,385.29 851.87,385.01 852.75,385.42 853.63,385.37 854.51,385.43 855.39,385.13 856.26,385.14 857.14,385.31 858.02,385.43 858.90,385.40 859.78,385.57 860.66,385.78 861.54,385.98 862.42,385.78 863.29,385.97 864.17,386.03 865.05,385.88 865.93,385.72 866.81,385.59 867.69,385.35 868.57,385.83 869.45,385.59 870.32,385.92 871.20,386.09 872.08,386.05 872.96,386.19 873.84,386.37 874.72,386.29 875.60,386.48 876.47,386.14 877.35,386.15 878.23,385.95 879.11,385.95 879.99,384.33 880.87,383.80 881.75,385.58 882.63,385.84 883.50,385.79 884.38,385.74 885.26,385.66 886.14,385.86 887.02,385.97 887.90,385.75 888.78,383.27 889.66,381.69 890.53,385.34 891.41,381.37 892.29,381.37 893.17,382.21 894.05,384.33 894.93,385.61 895.81,385.70 896.69,386.18 897.56,385.93 898.44,386.22 899.32,386.28 900.20,386.51 901.08,386.39 901.96,386.27 902.84,386.04 903.72,385.85 904.59,385.83 905.47,385.57 906.35,385.35 907.23,380.10 908.11,377.99 908.99,376.93 909.87,376.93 910.75,379.04 911.62,385.69 912.50,385.95 913.38,385.43 914.26,385.58 915.14,385.62 916.02,385.99 916.90,385.61 917.78,385.63 918.65,385.78 919.53,385.84 920.41,385.60 921.29,385.37 922.17,385.25 923.05,385.19 923.93,385.06 924.81,385.07 925.68,385.24 926.56,385.35 927.44,385.63 928.32,385.46 929.20,385.60 930.08,385.35 930.96,384.99 931.83,385.26 932.71,385.47 933.59,385.18 934.47,385.28 935.35,385.56 936.23,385.79 937.11,386.14 937.99,385.84 938.86,385.74 939.74,386.04 940.62,386.20 941.50,386.18 942.38,386.37 943.26,386.05 944.14,386.14 945.02,386.41 945.89,386.39 946.77,386.45 947.65,386.45 948.53,386.55 949.41,386.87 950.29,386.80 951.17,386.28 952.05,386.23 952.92,385.95 953.80,385.53 954.68,385.23 955.56,385.28"/><polyline fill="none" stroke="#196B24" stroke-width="3.2" stroke-linejoin="round" stroke-linecap="butt" points="43.44,387.50 44.32,387.50 45.20,387.50 46.08,387.50 46.95,387.50 47.83,387.50 48.71,387.50 49.59,387.50 50.47,387.50 51.35,387.50 52.23,387.50 53.11,387.50 53.98,387.50 54.86,387.50 55.74,387.50 56.62,387.50 57.50,387.50 58.38,387.50 59.26,387.50 60.14,387.50 61.01,387.50 61.89,387.50 62.77,387.50 63.65,387.50 64.53,387.50 65.41,387.50 66.29,387.50 67.17,387.50 68.04,387.50 68.92,387.50 69.80,387.50 70.68,387.50 71.56,387.50 72.44,387.50 73.32,387.50 74.19,387.50 75.07,387.50 75.95,387.50 76.83,387.50 77.71,387.50 78.59,387.50 79.47,387.50 80.35,387.50 81.22,355.79 82.10,306.85 82.98,308.21 83.86,290.93 84.74,302.93 85.62,281.79 86.50,270.71 87.38,265.93 88.25,282.27 89.13,260.64 90.01,277.56 90.89,323.95 91.77,271.21 92.65,307.20 93.53,255.36 94.41,240.77 95.28,298.57 96.16,265.93 97.04,301.55 97.92,276.50 98.80,260.64 99.68,285.62 100.56,246.90 101.44,306.21 102.31,271.21 103.19,324.07 104.07,357.90 104.95,339.93 105.83,337.41 106.71,315.61 107.59,334.64 108.47,367.67 109.34,366.36 110.22,385.39 111.10,384.85 111.98,380.27 112.86,380.31 113.74,380.09 114.62,378.49 115.50,376.93 116.37,378.02 117.25,378.88 118.13,380.34 119.01,381.43 119.89,379.28 120.77,379.47 121.65,377.96 122.53,375.45 123.40,372.43 124.28,369.12 125.16,366.49 126.04,365.62 126.92,368.51 127.80,368.55 128.68,372.59 129.55,373.97 130.43,372.50 131.31,372.39 132.19,376.05 133.07,376.51 133.95,377.42 134.83,378.20 135.71,376.73 136.58,373.84 137.46,368.92 138.34,370.54 139.22,365.73 140.10,365.62 140.98,369.16 141.86,369.84 142.74,369.08 143.61,370.50 144.49,371.22 145.37,370.99 146.25,367.53 147.13,369.27 148.01,369.29 148.89,367.21 149.77,366.99 150.64,366.10 151.52,369.36 152.40,367.68 153.28,368.19 154.16,367.64 155.04,367.40 155.92,367.07 156.80,370.01 157.67,368.85 158.55,368.47 159.43,363.54 160.31,363.89 161.19,361.86 162.07,362.33 162.95,358.75 163.83,357.74 164.70,356.13 165.58,352.95 166.46,351.66 167.34,354.01 168.22,354.13 169.10,355.79 169.98,349.95 170.86,340.85 171.73,335.70 172.61,336.82 173.49,344.24 174.37,346.83 175.25,351.66 176.13,341.17 177.01,327.35 177.88,330.99 178.76,337.61 179.64,344.79 180.52,347.05 181.40,345.81 182.28,350.29 183.16,356.02 184.04,360.21 184.91,368.47 185.79,372.05 186.67,372.70 187.55,380.72 188.43,385.39 189.31,387.50 190.19,387.50 191.07,383.27 191.94,382.74 192.82,387.50 193.70,387.50 194.58,387.50 195.46,387.50 196.34,387.50 197.22,387.50 198.10,387.50 198.97,387.50 199.85,387.50 200.73,387.50 201.61,387.50 202.49,387.50 203.37,387.50 204.25,387.50 205.13,387.50 206.00,387.50 206.88,387.50 207.76,387.50 208.64,387.50 209.52,387.50 210.40,387.50 211.28,387.50 212.16,387.50 213.03,387.50 213.91,387.50 214.79,387.50 215.67,387.50 216.55,387.50 217.43,387.50 218.31,384.33 219.19,383.80 220.06,387.50 220.94,387.50 221.82,387.50 222.70,387.50 223.58,387.50 224.46,387.50 225.34,387.50 226.22,387.50 227.09,387.50 227.97,387.50 228.85,387.50 229.73,387.50 230.61,387.50 231.49,387.50 232.37,387.50 233.24,387.50 234.12,387.50 235.00,387.50 235.88,387.50 236.76,387.50 237.64,387.50 238.52,387.50 239.40,387.50 240.27,387.50 241.15,387.50 242.03,387.50 242.91,387.50 243.79,387.50 244.67,387.50 245.55,387.50 246.43,387.50 247.30,387.50 248.18,387.50 249.06,387.50 249.94,387.50 250.82,387.50 251.70,387.50 252.58,387.50 253.46,387.50 254.33,387.50 255.21,387.50 256.09,387.50 256.97,387.50 257.85,387.50 258.73,387.50 259.61,387.50 260.49,387.50 261.36,387.50 262.24,387.50 263.12,387.50 264.00,387.50 264.88,387.50 265.76,387.50 266.64,387.50 267.52,387.50 268.39,387.50 269.27,387.50 270.15,387.50 271.03,387.50 271.91,387.50 272.79,387.50 273.67,387.50 274.55,387.50 275.42,387.50 276.30,387.50 277.18,387.50 278.06,387.50 278.94,387.50 279.82,387.50 280.70,387.50 281.58,387.50 282.45,387.50 283.33,387.50 284.21,387.50 285.09,387.50 285.97,387.50 286.85,387.50 287.73,387.50 288.60,387.50 289.48,387.50 290.36,387.50 291.24,387.50 292.12,387.50 293.00,387.50 293.88,387.50 294.76,387.50 295.63,387.50 296.51,387.50 297.39,387.50 298.27,387.50 299.15,387.50 300.03,387.50 300.91,387.50 301.79,387.50 302.66,387.50 303.54,387.50 304.42,387.50 305.30,387.50 306.18,387.50 307.06,387.50 307.94,387.50 308.82,387.50 309.69,387.50 310.57,387.50 311.45,387.50 312.33,387.50 313.21,387.50 314.09,387.50 314.97,387.50 315.85,387.50 316.72,387.50 317.60,387.50 318.48,387.50 319.36,387.50 320.24,387.50 321.12,387.50 322.00,387.50 322.88,387.50 323.75,387.50 324.63,387.50 325.51,387.50 326.39,387.50 327.27,387.50 328.15,387.50 329.03,387.50 329.91,387.50 330.78,387.50 331.66,387.50 332.54,387.50 333.42,387.50 334.30,387.50 335.18,387.50 336.06,387.50 336.94,387.50 337.81,387.50 338.69,387.50 339.57,387.50 340.45,387.50 341.33,387.50 342.21,387.50 343.09,387.50 343.96,387.50 344.84,387.50 345.72,387.50 346.60,387.50 347.48,387.50 348.36,387.50 349.24,387.50 350.12,387.50 350.99,387.50 351.87,387.50 352.75,387.50 353.63,387.50 354.51,387.50 355.39,387.50 356.27,387.50 357.15,387.50 358.02,387.50 358.90,387.50 359.78,387.50 360.66,387.50 361.54,387.50 362.42,387.50 363.30,387.50 364.18,387.50 365.05,387.50 365.93,387.50 366.81,387.50 367.69,387.50 368.57,387.50 369.45,387.50 370.33,387.50 371.21,387.50 372.08,387.50 372.96,387.50 373.84,387.50 374.72,387.50 375.60,387.50 376.48,387.50 377.36,387.50 378.24,387.50 379.11,387.50 379.99,387.50 380.87,387.50 381.75,387.50 382.63,387.50 383.51,387.50 384.39,387.50 385.27,387.50 386.14,387.50 387.02,387.50 387.90,387.50 388.78,387.50 389.66,381.71 390.54,371.64 391.42,343.10 392.29,357.53 393.17,355.79 394.05,377.25 394.93,351.56 395.81,349.81 396.69,342.61 397.57,358.34 398.45,369.20 399.32,357.37 400.20,334.64 401.08,337.32 401.96,349.13 402.84,347.52 403.72,357.03 404.60,351.61 405.48,315.61 406.35,340.44 407.23,337.35 408.11,344.57 408.99,356.35 409.87,345.21 410.75,381.21 411.63,379.23 412.51,362.36 413.38,359.35 414.26,336.33 415.14,382.21 416.02,381.35 416.90,378.85 417.78,355.79 418.66,361.71 419.54,354.59 420.41,348.91 421.29,356.40 422.17,354.00 423.05,354.82 423.93,362.77 424.81,368.67 425.69,364.03 426.57,354.35 427.44,348.14 428.32,355.46 429.20,361.27 430.08,346.96 430.96,343.23 431.84,333.86 432.72,329.67 433.60,336.15 434.47,355.38 435.35,354.59 436.23,345.07 437.11,348.03 437.99,344.28 438.87,324.53 439.75,311.97 440.63,310.68 441.50,307.59 442.38,313.92 443.26,312.57 444.14,303.70 445.02,217.30 445.90,305.33 446.78,287.32 447.65,311.72 448.53,318.34 449.41,315.15 450.29,324.13 451.17,298.07 452.05,274.17 452.93,281.71 453.81,295.90 454.68,298.06 455.56,298.58 456.44,304.43 457.32,273.45 458.20,285.18 459.08,299.35 459.96,208.31 460.84,306.05 461.71,294.00 462.59,258.84 463.47,274.98 464.35,308.93 465.23,329.86 466.11,320.84 466.99,286.45 467.87,275.81 468.74,258.53 469.62,261.08 470.50,278.58 471.38,233.16 472.26,320.63 473.14,311.90 474.02,295.55 474.90,272.65 475.77,272.44 476.65,264.25 477.53,278.50 478.41,263.41 479.29,335.17 480.17,264.78 481.05,297.21 481.93,328.33 482.80,308.04 483.68,287.54 484.56,266.41 485.44,268.57 486.32,292.52 487.20,298.06 488.08,292.84 488.96,263.73 489.83,255.61 490.71,228.93 491.59,218.88 492.47,242.45 493.35,343.10 494.23,292.95 495.11,313.62 495.99,286.52 496.86,264.49 497.74,228.76 498.62,202.36 499.50,235.26 500.38,247.64 501.26,286.37 502.14,291.99 503.01,277.57 503.89,269.95 504.77,267.79 505.65,258.00 506.53,284.27 507.41,295.76 508.29,312.81 509.17,291.87 510.04,280.53 510.92,165.50 511.80,263.94 512.68,265.42 513.56,274.02 514.44,247.31 515.32,229.19 516.20,192.93 517.07,218.23 517.95,206.47 518.83,244.25 519.71,249.08 520.59,278.99 521.47,254.67 522.35,239.73 523.23,226.24 524.10,215.83 524.98,231.11 525.86,259.50 526.74,258.61 527.62,298.36 528.50,228.01 529.38,193.48 530.26,265.42 531.13,297.35 532.01,251.29 532.89,210.29 533.77,249.36 534.65,287.46 535.53,261.18 536.41,266.29 537.29,246.29 538.16,220.79 539.04,200.00 539.92,238.08 540.80,255.27 541.68,275.43 542.56,280.55 543.44,277.45 544.32,256.57 545.19,234.57 546.07,216.57 546.95,230.18 547.83,257.46 548.71,221.77 549.59,191.52 550.47,203.45 551.35,214.00 552.22,233.66 553.10,262.29 553.98,251.04 554.86,257.58 555.74,234.21 556.62,248.27 557.50,249.47 558.37,247.43 559.25,255.68 560.13,235.00 561.01,224.04 561.89,217.16 562.77,207.98 563.65,223.40 564.53,222.93 565.40,131.99 566.28,261.54 567.16,312.55 568.04,302.64 568.92,267.86 569.80,248.35 570.68,217.90 571.56,222.57 572.43,243.75 573.31,256.39 574.19,271.12 575.07,263.25 575.95,235.68 576.83,204.18 577.71,240.23 578.59,258.73 579.46,263.29 580.34,182.84 581.22,253.92 582.10,323.01 582.98,252.29 583.86,253.04 584.74,277.32 585.62,261.32 586.49,237.26 587.37,233.93 588.25,245.64 589.13,252.23 590.01,246.47 590.89,229.21 591.77,215.86 592.65,203.51 593.52,197.07 594.40,220.60 595.28,269.61 596.16,302.56 597.04,272.60 597.92,262.82 598.80,234.85 599.68,218.84 600.55,218.93 601.43,234.34 602.31,242.26 603.19,266.12 604.07,287.59 604.95,235.80 605.83,203.15 606.71,255.42 607.58,291.36 608.46,278.57 609.34,238.19 610.22,261.81 611.10,256.09 611.98,261.52 612.86,273.14 613.73,275.89 614.61,248.74 615.49,210.13 616.37,182.69 617.25,199.57 618.13,242.96 619.01,264.03 619.89,238.10 620.76,211.18 621.64,188.47 622.52,236.23 623.40,246.28 624.28,267.30 625.16,269.08 626.04,265.74 626.92,274.08 627.79,245.13 628.67,247.94 629.55,270.45 630.43,287.33 631.31,257.23 632.19,190.87 633.07,224.46 633.95,212.66 634.82,209.00 635.70,228.12 636.58,233.90 637.46,245.02 638.34,261.10 639.22,233.65 640.10,242.46 640.98,213.25 641.85,220.17 642.73,205.75 643.61,220.12 644.49,233.03 645.37,259.42 646.25,254.63 647.13,285.09 648.01,311.39 648.88,236.21 649.76,222.09 650.64,206.86 651.52,217.21 652.40,236.47 653.28,264.41 654.16,247.96 655.04,230.47 655.91,215.94 656.79,212.98 657.67,221.91 658.55,235.09 659.43,246.77 660.31,317.09 661.19,253.05 662.06,133.79 662.94,229.83 663.82,246.21 664.70,278.65 665.58,297.74 666.46,265.27 667.34,254.93 668.22,229.71 669.09,230.20 669.97,203.09 670.85,234.56 671.73,276.59 672.61,250.23 673.49,265.52 674.37,265.08 675.25,274.09 676.12,279.02 677.00,176.49 677.88,291.23 678.76,277.93 679.64,285.36 680.52,286.87 681.40,296.68 682.28,283.06 683.15,270.24 684.03,244.98 684.91,243.91 685.79,264.57 686.67,288.03 687.55,294.82 688.43,314.72 689.31,315.83 690.18,303.53 691.06,290.82 691.94,265.97 692.82,257.99 693.70,279.17 694.58,313.66 695.46,332.16 696.34,314.64 697.21,291.05 698.09,285.56 698.97,279.71 699.85,276.64 700.73,278.99 701.61,285.27 702.49,319.39 703.37,293.40 704.24,281.43 705.12,274.92 706.00,268.67 706.88,338.87 707.76,273.62 708.64,267.58 709.52,284.63 710.40,273.24 711.27,280.59 712.15,279.94 713.03,265.78 713.91,268.00 714.79,326.19 715.67,275.38 716.55,296.59 717.42,310.37 718.30,309.18 719.18,312.38 720.06,284.34 720.94,259.90 721.82,359.49 722.70,218.59 723.58,239.27 724.45,234.51 725.33,120.04 726.21,279.43 727.09,274.51 727.97,266.53 728.85,252.67 729.73,225.62 730.61,214.02 731.48,190.77 732.36,221.91 733.24,263.52 734.12,277.55 735.00,254.25 735.88,235.52 736.76,230.93 737.64,232.98 738.51,254.10 739.39,249.92 740.27,298.70 741.15,278.94 742.03,290.13 742.91,255.28 743.79,241.18 744.67,113.70 745.54,263.02 746.42,260.69 747.30,125.33 748.18,252.04 749.06,249.04 749.94,207.43 750.82,208.51 751.70,190.05 752.57,193.20 753.45,217.33 754.33,238.69 755.21,243.59 756.09,265.65 756.97,247.51 757.85,251.65 758.73,238.71 759.60,248.32 760.48,235.35 761.36,241.85 762.24,283.22 763.12,283.52 764.00,272.96 764.88,264.22 765.76,249.43 766.63,270.87 767.51,255.73 768.39,263.09 769.27,271.62 770.15,268.37 771.03,264.45 771.91,213.45 772.78,241.90 773.66,254.81 774.54,284.96 775.42,263.96 776.30,254.18 777.18,235.52 778.06,237.69 778.94,230.45 779.81,257.11 780.69,238.44 781.57,287.15 782.45,302.46 783.33,288.79 784.21,269.44 785.09,258.02 785.97,254.57 786.84,272.33 787.72,285.31 788.60,315.04 789.48,294.13 790.36,290.27 791.24,269.52 792.12,261.58 793.00,269.07 793.87,281.54 794.75,281.19 795.63,297.24 796.51,294.26 797.39,293.60 798.27,278.98 799.15,251.55 800.03,294.30 800.90,319.56 801.78,340.29 802.66,361.40 803.54,367.74 804.42,366.55 805.30,363.51 806.18,357.38 807.06,358.05 807.93,362.86 808.81,369.63 809.69,362.80 810.57,353.33 811.45,351.17 812.33,349.76 813.21,353.35 814.09,362.79 814.96,365.39 815.84,369.87 816.72,367.56 817.60,362.40 818.48,362.17 819.36,358.21 820.24,362.70 821.12,334.64 821.99,309.48 822.87,339.93 823.75,378.12 824.63,375.74 825.51,371.75 826.39,370.54 827.27,365.39 828.14,370.34 829.02,374.30 829.90,377.82 830.78,382.10 831.66,382.55 832.54,382.37 833.42,380.72 834.30,382.47 835.17,381.08 836.05,381.25 836.93,383.03 837.81,383.58 838.69,385.21 839.57,385.16 840.45,384.94 841.33,385.15 842.20,385.21 843.08,385.16 843.96,384.59 844.84,384.77 845.72,384.39 846.60,384.44 847.48,384.16 848.36,384.50 849.23,384.92 850.11,385.42 850.99,385.78 851.87,385.93 852.75,386.24 853.63,386.25 854.51,385.74 855.39,385.65 856.26,385.28 857.14,385.34 858.02,382.21 858.90,380.52 859.78,382.21 860.66,385.09 861.54,384.80 862.42,385.25 863.29,384.91 864.17,385.24 865.05,385.26 865.93,385.29 866.81,385.34 867.69,385.50 868.57,385.44 869.45,385.65 870.32,385.83 871.20,385.84 872.08,386.15 872.96,386.44 873.84,386.72 874.72,386.42 875.60,386.12 876.47,385.50 877.35,384.93 878.23,384.72 879.11,384.79 879.99,384.50 880.87,384.37 881.75,384.63 882.63,384.71 883.50,385.30 884.38,385.19 885.26,385.30 886.14,385.70 887.02,385.69 887.90,385.55 888.78,385.73 889.66,385.34 890.53,385.53 891.41,385.54 892.29,384.95 893.17,385.34 894.05,385.08 894.93,384.88 895.81,385.25 896.69,385.20 897.56,384.98 898.44,385.06 899.32,384.77 900.20,385.15 901.08,385.55 901.96,385.59 902.84,385.24 903.72,385.23 904.59,385.41 905.47,385.87 906.35,385.88 907.23,385.45 908.11,384.78 908.99,385.12 909.87,385.39 910.75,385.20 911.62,384.53 912.50,384.41 913.38,384.74 914.26,384.87 915.14,384.51 916.02,384.44 916.90,384.66 917.78,384.68 918.65,384.53 919.53,384.39 920.41,384.63 921.29,384.62 922.17,384.37 923.05,384.03 923.93,384.46 924.81,384.76 925.68,384.59 926.56,384.72 927.44,385.08 928.32,385.43 929.20,385.66 930.08,385.79 930.96,385.97 931.83,386.38 932.71,386.06 933.59,385.69 934.47,385.50 935.35,385.92 936.23,385.67 937.11,385.17 937.99,385.30 938.86,385.40 939.74,386.01 940.62,385.67 941.50,385.10 942.38,385.13 943.26,385.40 944.14,384.86 945.02,384.59 945.89,384.12 946.77,384.56 947.65,384.33 948.53,383.80 949.41,384.33 950.29,385.55 951.17,385.72 952.05,385.97 952.92,385.47 953.80,385.24 954.68,385.60 955.56,385.28"/><polyline fill="none" stroke="#0F9ED5" stroke-width="3.2" stroke-linejoin="round" stroke-linecap="butt" points="43.44,387.50 44.32,387.50 45.20,387.50 46.08,387.50 46.95,387.50 47.83,387.50 48.71,387.50 49.59,387.50 50.47,387.50 51.35,387.50 52.23,387.50 53.11,387.50 53.98,387.50 54.86,387.50 55.74,387.50 56.62,387.50 57.50,387.50 58.38,387.50 59.26,387.50 60.14,387.50 61.01,387.50 61.89,387.50 62.77,387.50 63.65,387.50 64.53,387.50 65.41,387.50 66.29,387.50 67.17,387.50 68.04,387.50 68.92,387.50 69.80,387.50 70.68,387.50 71.56,387.50 72.44,387.50 73.32,387.50 74.19,387.50 75.07,387.50 75.95,387.50 76.83,387.50 77.71,387.50 78.59,387.50 79.47,387.50 80.35,308.21 81.22,236.33 82.10,288.09 82.98,260.64 83.86,304.03 84.74,298.07 85.62,302.23 86.50,258.53 87.38,284.09 88.25,265.93 89.13,281.79 90.01,289.57 90.89,287.07 91.77,307.23 92.65,296.59 93.53,298.56 94.41,260.64 95.28,276.50 96.16,295.22 97.04,283.90 97.92,318.68 98.80,269.10 99.68,262.76 100.56,292.13 101.44,294.69 102.31,253.24 103.19,271.21 104.07,297.64 104.95,309.30 105.83,324.07 106.71,321.96 107.59,364.39 108.47,316.14 109.34,350.50 110.22,385.81 111.10,384.67 111.98,379.65 112.86,377.32 113.74,376.93 114.62,376.36 115.50,376.26 116.37,374.81 117.25,372.95 118.13,373.33 119.01,374.95 119.89,374.77 120.77,374.59 121.65,375.35 122.53,375.45 123.40,374.02 124.28,372.65 125.16,371.91 126.04,369.85 126.92,366.66 127.80,365.67 128.68,363.69 129.55,363.64 130.43,362.65 131.31,358.70 132.19,358.01 133.07,365.52 133.95,366.72 134.83,373.33 135.71,371.85 136.58,372.69 137.46,369.58 138.34,368.47 139.22,364.29 140.10,361.36 140.98,357.22 141.86,353.87 142.74,348.17 143.61,346.83 144.49,349.22 145.37,349.55 146.25,358.23 147.13,363.14 148.01,371.22 148.89,366.64 149.77,365.35 150.64,362.32 151.52,357.61 152.40,354.52 153.28,355.83 154.16,358.97 155.04,359.96 155.92,364.24 156.80,366.12 157.67,365.61 158.55,370.04 159.43,372.59 160.31,367.49 161.19,367.74 162.07,365.05 162.95,359.92 163.83,357.11 164.70,355.89 165.58,356.68 166.46,354.04 167.34,353.69 168.22,354.11 169.10,353.14 169.98,355.85 170.86,366.48 171.73,367.18 172.61,373.33 173.49,363.60 174.37,350.50 175.25,337.37 176.13,328.83 177.01,335.06 177.88,341.71 178.76,347.55 179.64,353.14 180.52,357.23 181.40,359.06 182.28,364.24 183.16,368.79 184.04,370.12 184.91,371.64 185.79,374.81 186.67,380.07 187.55,386.44 188.43,386.17 189.31,386.28 190.19,385.38 191.07,385.59 191.94,385.86 192.82,386.24 193.70,386.03 194.58,385.45 195.46,383.80 196.34,383.80 197.22,386.27 198.10,386.41 198.97,387.07 199.85,386.83 200.73,387.03 201.61,386.59 202.49,386.79 203.37,386.07 204.25,386.12 205.13,383.80 206.00,383.80 206.88,387.13 207.76,387.07 208.64,386.74 209.52,386.51 210.40,386.03 211.28,383.80 212.16,384.33 213.03,385.83 213.91,385.31 214.79,385.62 215.67,386.26 216.55,386.28 217.43,385.92 218.31,386.02 219.19,384.86 220.06,385.89 220.94,385.09 221.82,385.68 222.70,386.16 223.58,386.24 224.46,385.32 225.34,385.75 226.22,386.41 227.09,387.36 227.97,386.54 228.85,385.98 229.73,385.90 230.61,386.85 231.49,387.09 232.37,387.10 233.24,387.11 234.12,387.01 235.00,387.14 235.88,387.13 236.76,387.21 237.64,386.96 238.52,386.67 239.40,386.83 240.27,386.77 241.15,386.92 242.03,386.68 242.91,386.85 243.79,386.93 244.67,386.90 245.55,386.99 246.43,386.97 247.30,387.16 248.18,387.07 249.06,387.17 249.94,386.98 250.82,386.81 251.70,383.80 252.58,386.96 253.46,387.14 254.33,386.90 255.21,387.03 256.09,386.89 256.97,387.13 257.85,386.85 258.73,386.78 259.61,386.74 260.49,386.95 261.36,387.08 262.24,387.19 263.12,387.11 264.00,387.01 264.88,386.78 265.76,386.79 266.64,387.01 267.52,386.89 268.39,386.99 269.27,386.79 270.15,386.88 271.03,383.80 271.91,386.76 272.79,386.93 273.67,386.98 274.55,387.22 275.42,387.04 276.30,387.13 277.18,387.10 278.06,387.16 278.94,387.05 279.82,387.13 280.70,387.33 281.58,387.33 282.45,387.31 283.33,387.04 284.21,387.13 285.09,386.98 285.97,387.20 286.85,386.84 287.73,386.94 288.60,386.75 289.48,386.99 290.36,387.00 291.24,386.88 292.12,386.96 293.00,387.05 293.88,387.26 294.76,387.24 295.63,387.21 296.51,387.10 297.39,387.08 298.27,387.03 299.15,386.95 300.03,386.89 300.91,386.98 301.79,387.28 302.66,387.31 303.54,387.22 304.42,386.98 305.30,386.76 306.18,386.83 307.06,386.82 307.94,386.85 308.82,386.56 309.69,386.71 310.57,387.00 311.45,387.21 312.33,387.33 313.21,387.06 314.09,387.02 314.97,387.02 315.85,387.26 316.72,387.14 317.60,386.81 318.48,386.82 319.36,386.87 320.24,387.06 321.12,387.01 322.00,387.16 322.88,387.32 323.75,387.24 324.63,387.20 325.51,387.15 326.39,387.04 327.27,386.89 328.15,386.87 329.03,386.80 329.91,387.08 330.78,386.94 331.66,387.06 332.54,386.77 333.42,386.88 334.30,386.87 335.18,387.11 336.06,387.00 336.94,387.07 337.81,387.06 338.69,387.17 339.57,387.02 340.45,386.93 341.33,386.82 342.21,386.82 343.09,386.82 343.96,386.86 344.84,387.05 345.72,387.09 346.60,387.16 347.48,387.07 348.36,387.11 349.24,386.95 350.12,386.78 350.99,386.82 351.87,386.81 352.75,386.85 353.63,386.52 354.51,386.79 355.39,387.04 356.27,387.04 357.15,387.10 358.02,386.90 358.90,386.90 359.78,386.77 360.66,387.03 361.54,387.17 362.42,387.01 363.30,386.80 364.18,386.97 365.05,387.14 365.93,387.16 366.81,387.04 367.69,386.92 368.57,386.74 369.45,386.75 370.33,386.80 371.21,387.16 372.08,387.34 372.96,387.13 373.84,386.94 374.72,386.60 375.60,386.70 376.48,386.61 377.36,386.70 378.24,386.91 379.11,387.19 379.99,387.17 380.87,387.13 381.75,386.95 382.63,386.94 383.51,386.70 384.39,386.70 385.27,386.81 386.14,387.01 387.02,387.00 387.90,386.85 388.78,387.50 389.66,387.50 390.54,360.01 391.42,366.36 392.29,386.44 393.17,376.93 394.05,343.44 394.93,354.73 395.81,352.15 396.69,361.07 397.57,360.54 398.45,354.22 399.32,362.13 400.20,350.50 401.08,347.27 401.96,358.44 402.84,372.34 403.72,334.64 404.60,354.32 405.48,343.81 406.35,325.04 407.23,343.96 408.11,346.62 408.99,361.60 409.87,319.84 410.75,371.11 411.63,364.64 412.51,362.52 413.38,362.41 414.26,371.64 415.14,362.74 416.02,354.67 416.90,365.99 417.78,366.91 418.66,353.71 419.54,353.70 420.41,311.39 421.29,343.56 422.17,342.01 423.05,379.57 423.93,360.83 424.81,345.20 425.69,340.06 426.57,335.01 427.44,311.39 428.32,318.33 429.20,327.99 430.08,330.54 430.96,337.54 431.84,348.96 432.72,346.47 433.60,345.89 434.47,353.50 435.35,337.52 436.23,253.24 437.11,346.13 437.99,340.22 438.87,329.11 439.75,321.42 440.63,316.72 441.50,295.86 442.38,279.54 443.26,254.57 444.14,264.40 445.02,275.50 445.90,292.64 446.78,309.91 447.65,286.80 448.53,266.34 449.41,282.80 450.29,282.34 451.17,304.62 452.05,287.96 452.93,275.12 453.81,254.34 454.68,166.56 455.56,253.82 456.44,274.21 457.32,280.49 458.20,318.99 459.08,276.33 459.96,264.58 460.84,276.28 461.71,267.53 462.59,276.76 463.47,274.37 464.35,219.41 465.23,273.05 466.11,272.96 466.99,273.73 467.87,273.88 468.74,273.84 469.62,281.93 470.50,290.83 471.38,308.41 472.26,287.48 473.14,268.84 474.02,251.49 474.90,263.21 475.77,269.33 476.65,286.82 477.53,270.64 478.41,274.12 479.29,259.61 480.17,252.60 481.05,243.95 481.93,242.30 482.80,268.25 483.68,269.26 484.56,276.87 485.44,267.02 486.32,273.05 487.20,269.67 488.08,260.85 488.96,251.59 489.83,256.18 490.71,254.08 491.59,223.47 492.47,201.19 493.35,220.97 494.23,234.11 495.11,254.39 495.99,259.00 496.86,260.14 497.74,244.09 498.62,253.40 499.50,177.13 500.38,254.42 501.26,275.44 502.14,277.77 503.01,279.87 503.89,288.45 504.77,276.35 505.65,264.58 506.53,252.02 507.41,256.37 508.29,246.94 509.17,241.75 510.04,257.58 510.92,247.99 511.80,229.37 512.68,226.88 513.56,193.64 514.44,236.72 515.32,285.51 516.20,259.12 517.07,218.50 517.95,244.82 518.83,277.53 519.71,315.25 520.59,267.89 521.47,277.10 522.35,237.46 523.23,235.80 524.10,229.18 524.98,239.10 525.86,243.78 526.74,250.04 527.62,235.89 528.50,235.50 529.38,194.04 530.26,198.29 531.13,197.00 532.01,222.57 532.89,266.69 533.77,294.69 534.65,270.19 535.53,224.23 536.41,187.59 537.29,210.69 538.16,221.42 539.04,225.02 539.92,235.23 540.80,280.14 541.68,255.14 542.56,249.76 543.44,252.50 544.32,234.97 545.19,259.42 546.07,267.83 546.95,275.58 547.83,242.96 548.71,240.26 549.59,215.09 550.47,189.93 551.35,226.02 552.22,251.14 553.10,273.97 553.98,282.30 554.86,269.05 555.74,251.10 556.62,253.92 557.50,254.98 558.37,249.39 559.25,256.64 560.13,228.51 561.01,220.37 561.89,224.30 562.77,236.00 563.65,274.04 564.53,272.72 565.40,269.82 566.28,166.56 567.16,181.36 568.04,207.66 568.92,237.88 569.80,266.66 570.68,273.60 571.56,299.17 572.43,254.00 573.31,264.57 574.19,218.53 575.07,207.08 575.95,231.34 576.83,284.41 577.71,254.36 578.59,247.04 579.46,217.65 580.34,195.39 581.22,221.77 582.10,244.82 582.98,231.06 583.86,225.39 584.74,227.83 585.62,231.92 586.49,211.39 587.37,239.46 588.25,243.28 589.13,231.89 590.01,228.69 590.89,234.53 591.77,216.99 592.65,217.22 593.52,240.05 594.40,263.45 595.28,272.51 596.16,215.77 597.04,182.42 597.92,225.03 598.80,272.18 599.68,262.23 600.55,250.69 601.43,244.08 602.31,227.67 603.19,231.75 604.07,248.84 604.95,231.01 605.83,238.73 606.71,233.29 607.58,242.91 608.46,234.50 609.34,234.43 610.22,242.62 611.10,241.37 611.98,221.66 612.86,238.66 613.73,230.88 614.61,229.87 615.49,225.02 616.37,242.00 617.25,243.47 618.13,263.71 619.01,265.01 619.89,270.80 620.76,258.88 621.64,317.09 622.52,234.55 623.40,238.98 624.28,236.83 625.16,242.50 626.04,247.36 626.92,237.33 627.79,222.35 628.67,209.66 629.55,203.46 630.43,209.31 631.31,234.55 632.19,247.73 633.07,255.49 633.95,246.14 634.82,234.86 635.70,223.42 636.58,210.87 637.46,231.73 638.34,237.59 639.22,176.07 640.10,174.49 640.98,291.97 641.85,265.68 642.73,267.27 643.61,254.16 644.49,228.48 645.37,218.60 646.25,230.36 647.13,269.30 648.01,243.03 648.88,228.03 649.76,214.72 650.64,227.33 651.52,253.84 652.40,228.99 653.28,224.88 654.16,205.61 655.04,230.85 655.91,235.38 656.79,256.52 657.67,276.69 658.55,262.99 659.43,255.33 660.31,229.89 661.19,221.77 662.06,211.84 662.94,239.37 663.82,266.01 664.70,238.29 665.58,217.25 666.46,199.58 667.34,225.48 668.22,242.84 669.09,247.33 669.97,279.62 670.85,314.56 671.73,225.99 672.61,215.37 673.49,259.77 674.37,299.72 675.25,185.59 676.12,336.76 677.00,249.37 677.88,225.11 678.76,219.44 679.64,242.16 680.52,264.11 681.40,265.17 682.28,269.59 683.15,253.57 684.03,259.45 684.91,317.09 685.79,262.47 686.67,247.53 687.55,242.27 688.43,235.36 689.31,236.86 690.18,249.73 691.06,255.78 691.94,260.77 692.82,283.07 693.70,252.57 694.58,253.87 695.46,268.19 696.34,275.19 697.21,330.41 698.09,257.23 698.97,247.58 699.85,244.79 700.73,276.54 701.61,289.95 702.49,308.96 703.37,290.25 704.24,279.10 705.12,272.03 706.00,257.77 706.88,253.24 707.76,295.50 708.64,319.02 709.52,284.88 710.40,265.19 711.27,262.55 712.15,229.99 713.03,278.24 713.91,303.89 714.79,309.07 715.67,304.59 716.55,292.02 717.42,277.38 718.30,255.69 719.18,269.42 720.06,276.56 720.94,350.50 721.82,277.21 722.70,242.68 723.58,236.67 724.45,210.48 725.33,182.23 726.21,135.90 727.09,205.71 727.97,219.21 728.85,229.84 729.73,199.94 730.61,192.62 731.48,231.80 732.36,267.83 733.24,234.41 734.12,167.61 735.00,220.01 735.88,192.33 736.76,206.19 737.64,237.39 738.51,234.16 739.39,220.51 740.27,217.78 741.15,194.97 742.03,158.52 742.91,216.45 743.79,246.45 744.67,272.32 745.54,264.83 746.42,246.29 747.30,230.01 748.18,257.02 749.06,265.17 749.94,244.30 750.82,243.66 751.70,254.71 752.57,237.03 753.45,239.83 754.33,233.04 755.21,172.37 756.09,244.12 756.97,255.14 757.85,230.13 758.73,215.54 759.60,232.37 760.48,230.70 761.36,250.48 762.24,245.66 763.12,190.87 764.00,257.86 764.88,247.51 765.76,227.79 766.63,240.72 767.51,234.03 768.39,241.83 769.27,270.59 770.15,297.30 771.03,273.97 771.91,246.99 772.78,262.94 773.66,268.83 774.54,265.39 775.42,269.45 776.30,282.20 777.18,273.86 778.06,259.54 778.94,269.32 779.81,262.18 780.69,256.86 781.57,269.64 782.45,255.81 783.33,255.52 784.21,248.15 785.09,249.94 785.97,349.44 786.84,267.49 787.72,261.22 788.60,264.87 789.48,248.22 790.36,234.32 791.24,249.77 792.12,270.21 793.00,272.87 793.87,286.81 794.75,310.21 795.63,284.71 796.51,276.35 797.39,268.89 798.27,280.62 799.15,284.55 800.03,296.91 800.90,333.24 801.78,353.00 802.66,361.67 803.54,369.08 804.42,363.42 805.30,359.96 806.18,356.59 807.06,361.15 807.93,369.24 808.81,371.54 809.69,362.58 810.57,358.48 811.45,357.07 812.33,363.02 813.21,366.78 814.09,371.63 814.96,369.80 815.84,366.68 816.72,365.07 817.60,362.43 818.48,361.79 819.36,345.21 820.24,370.02 821.12,365.90 821.99,362.55 822.87,363.24 823.75,366.64 824.63,369.04 825.51,371.30 826.39,375.15 827.27,374.46 828.14,371.33 829.02,371.63 829.90,374.05 830.78,375.98 831.66,379.04 832.54,381.11 833.42,379.30 834.30,379.70 835.17,379.21 836.05,378.65 836.93,377.67 837.81,380.98 838.69,384.49 839.57,384.57 840.45,384.62 841.33,384.51 842.20,383.83 843.08,383.79 843.96,383.81 844.84,383.20 845.72,384.33 846.60,382.51 847.48,383.27 848.36,382.85 849.23,382.21 850.11,381.16 850.99,383.16 851.87,379.57 852.75,383.76 853.63,378.51 854.51,377.46 855.39,383.47 856.26,381.16 857.14,382.98 858.02,383.32 858.90,383.22 859.78,383.35 860.66,383.14 861.54,383.44 862.42,383.45 863.29,383.48 864.17,384.13 865.05,383.78 865.93,383.68 866.81,384.30 867.69,383.80 868.57,384.01 869.45,384.45 870.32,384.81 871.20,384.92 872.08,384.83 872.96,385.00 873.84,384.69 874.72,384.54 875.60,385.17 876.47,385.55 877.35,385.00 878.23,384.77 879.11,384.78 879.99,384.46 880.87,384.41 881.75,385.00 882.63,385.23 883.50,384.69 884.38,384.48 885.26,384.28 886.14,384.49 887.02,384.92 887.90,385.29 888.78,385.37 889.66,385.52 890.53,385.03 891.41,385.43 892.29,385.63 893.17,386.13 894.05,385.79 894.93,385.26 895.81,384.60 896.69,384.78 897.56,384.25 898.44,384.65 899.32,384.75 900.20,384.65 901.08,384.56 901.96,384.37 902.84,384.46 903.72,385.07 904.59,384.89 905.47,385.12 906.35,384.79 907.23,384.61 908.11,384.08 908.99,384.35 909.87,384.81 910.75,385.18 911.62,384.67 912.50,384.24 913.38,384.02 914.26,384.11 915.14,384.27 916.02,384.33 916.90,383.69 917.78,383.80 918.65,383.45 919.53,384.07 920.41,384.52 921.29,385.09 922.17,385.27 923.05,385.03 923.93,384.93 924.81,384.66 925.68,384.28 926.56,384.37 927.44,384.38 928.32,384.27 929.20,383.65 930.08,383.79 930.96,382.74 931.83,381.69 932.71,381.37 933.59,382.74 934.47,384.30 935.35,384.23 936.23,384.29 937.11,384.88 937.99,384.53 938.86,385.22 939.74,385.73 940.62,385.95 941.50,385.67 942.38,385.57 943.26,385.39 944.14,384.98 945.02,384.95 945.89,384.65 946.77,383.98 947.65,383.85 948.53,383.64 949.41,383.37 950.29,383.25 951.17,382.87 952.05,383.03 952.92,382.97 953.80,383.15 954.68,383.49 955.56,383.41"/><line x1="117.5" x2="146.5" y1="479.50" y2="479.50" stroke="#156082" stroke-width="3.5" stroke-linecap="round"/><text x="150.0" y="484.00" class="lg" textLength="709.5" lengthAdjust="spacingAndGlyphs">{__name__=&quot;nutanix_host_controller_num_read_iops&quot;, hostname=&quot;NTNX-VDI-1&quot;, instance=&quot;localhost:9405&quot;, job=&quot;nutanix_exporter&quot;}</text><line x1="117.5" x2="146.5" y1="504.70" y2="504.70" stroke="#E97132" stroke-width="3.5" stroke-linecap="round"/><text x="150.0" y="509.20" class="lg" textLength="709.5" lengthAdjust="spacingAndGlyphs">{__name__=&quot;nutanix_host_controller_num_read_iops&quot;, hostname=&quot;NTNX-VDI-2&quot;, instance=&quot;localhost:9405&quot;, job=&quot;nutanix_exporter&quot;}</text><line x1="117.5" x2="146.5" y1="529.90" y2="529.90" stroke="#196B24" stroke-width="3.5" stroke-linecap="round"/><text x="150.0" y="534.40" class="lg" textLength="709.5" lengthAdjust="spacingAndGlyphs">{__name__=&quot;nutanix_host_controller_num_read_iops&quot;, hostname=&quot;NTNX-VDI-3&quot;, instance=&quot;localhost:9405&quot;, job=&quot;nutanix_exporter&quot;}</text><line x1="117.5" x2="146.5" y1="555.10" y2="555.10" stroke="#0F9ED5" stroke-width="3.5" stroke-linecap="round"/><text x="150.0" y="559.60" class="lg" textLength="709.5" lengthAdjust="spacingAndGlyphs">{__name__=&quot;nutanix_host_controller_num_read_iops&quot;, hostname=&quot;NTNX-VDI-4&quot;, instance=&quot;localhost:9405&quot;, job=&quot;nutanix_exporter&quot;}</text></svg>
<div class="frame"></div>
</body></html>
